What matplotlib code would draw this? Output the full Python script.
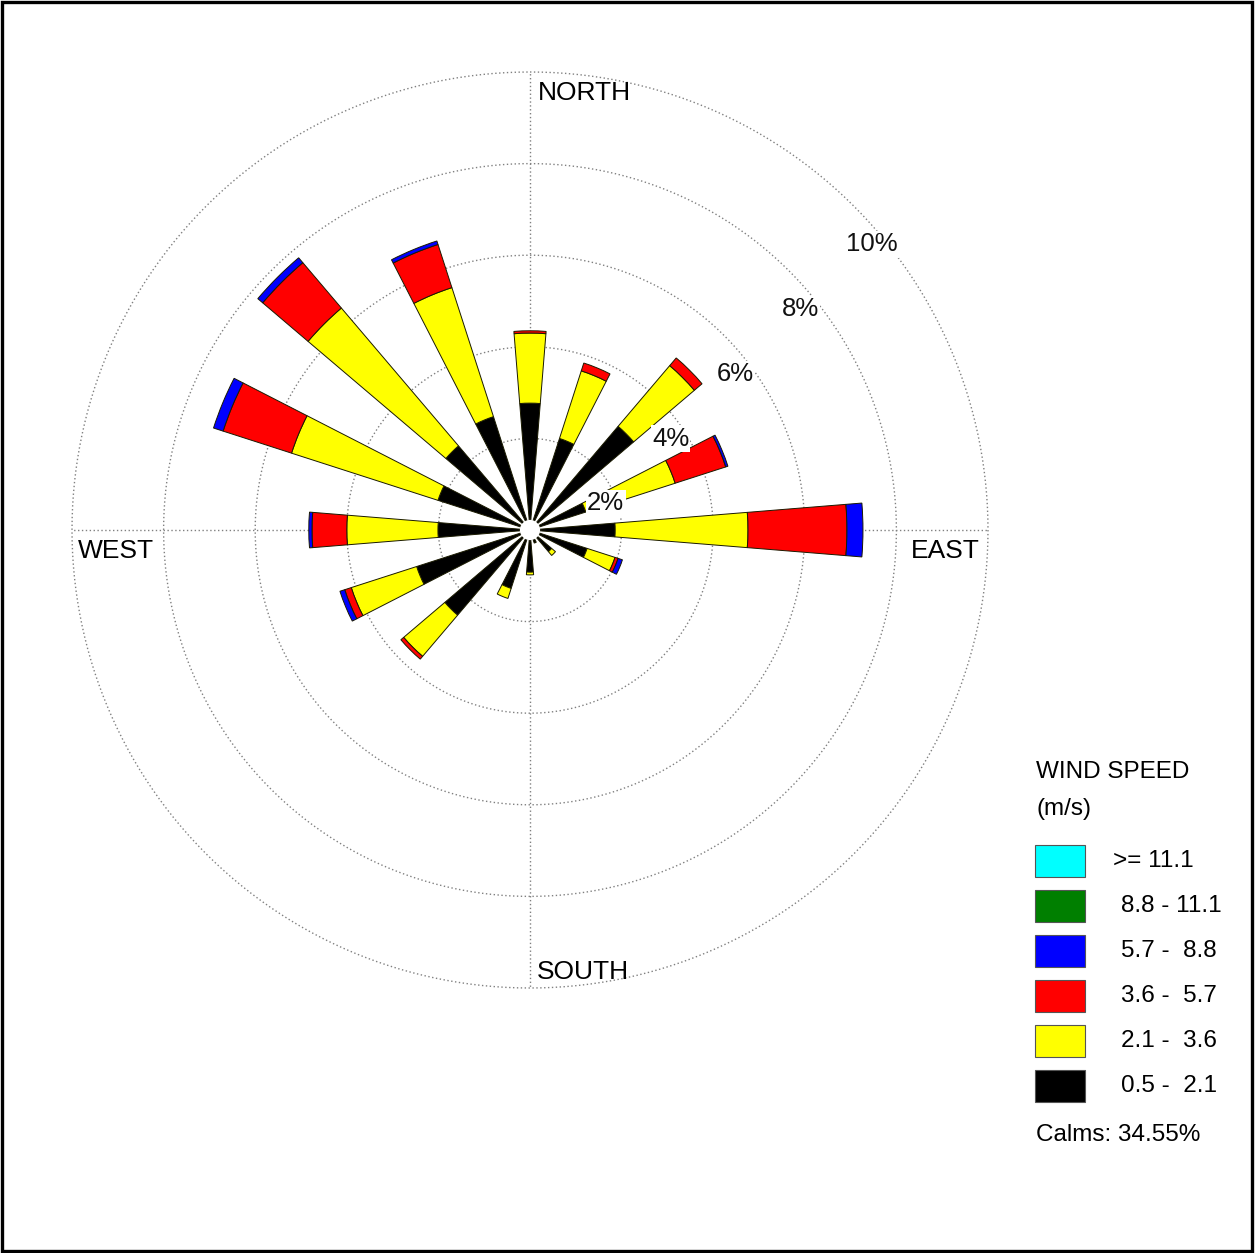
import numpy as np
import matplotlib.pyplot as plt
from matplotlib.patches import Rectangle

plt.rcParams['font.family'] = ['Liberation Sans', 'DejaVu Sans']

# Direcciones (de donde sopla el viento) y frecuencias (%) por clase de velocidad
direcciones = ['N', 'NNE', 'NE', 'ENE', 'E', 'ESE', 'SE', 'SSE',
               'S', 'SSW', 'SW', 'WSW', 'W', 'WNW', 'NW', 'NNW']
vel_05_21 = [2.77, 2.10, 2.97, 1.28, 1.86, 1.31, 0.62, 0.30,
             0.92, 1.34, 2.44, 2.60, 2.01, 2.11, 2.41, 2.60]
vel_21_36 = [1.53, 1.55, 1.74, 2.05, 2.90, 0.64, 0.11, 0.00,
             0.06, 0.23, 1.18, 1.50, 1.99, 3.36, 3.95, 2.96]
vel_36_57 = [0.05, 0.18, 0.22, 1.16, 2.16, 0.07, 0.00, 0.00,
             0.00, 0.00, 0.08, 0.15, 0.76, 1.57, 1.30, 0.99]
vel_57_88 = [0.00, 0.00, 0.00, 0.05, 0.35, 0.10, 0.00, 0.00,
             0.00, 0.00, 0.00, 0.11, 0.07, 0.22, 0.14, 0.08]
vel_88_111 = [0.0] * 16
vel_111 = [0.0] * 16

clases = ['0.5 -  2.1', '2.1 -  3.6', '3.6 -  5.7', '5.7 -  8.8', '8.8 - 11.1', '>= 11.1']
colores = ['#000000', '#ffff00', '#ff0000', '#0000ff', '#007f00', '#00ffff']
anillos = [2, 4, 6, 8, 10]
calmas = 34.55

W, H = 1255, 1253
fig = plt.figure(figsize=(W / 100, H / 100), dpi=100)

def fx(px):
    return px / W

def fy(py):
    return 1 - py / H

# Rosa de vientos: centro en (530, 530) px, anillo de 10% con radio 458 px
cx, cy, rad = 530, 530, 458
ax = fig.add_axes([fx(cx - rad), fy(cy + rad), 2 * rad / W, 2 * rad / H], projection='polar')
ax.set_theta_zero_location('N')
ax.set_theta_direction(-1)
ax.set_ylim(0, 10)
ax.axis('off')

# Rejilla punteada: anillos y ejes N-S / E-W
grid_kw = dict(color='#808080', lw=1.0, ls=(0, (1, 1.8)), zorder=1, clip_on=False)
t = np.linspace(0, 2 * np.pi, 721)
for r in anillos:
    ax.plot(t, np.full_like(t, r), **grid_kw)
for a in [0, 90, 180, 270]:
    ax.plot([np.radians(a)] * 2, [0, 10], **grid_kw)

# Barras apiladas por clase de velocidad
theta = np.radians(np.arange(len(direcciones)) * 22.5)
series = [vel_05_21, vel_21_36, vel_36_57, vel_57_88, vel_88_111, vel_111]
base = np.zeros(len(direcciones))
for vals, col in zip(series, colores):
    vals = np.array(vals)
    m = vals > 0
    if m.any():
        ax.bar(theta[m], vals[m], width=0.162, bottom=base[m], color=col,
               edgecolor='#1a1a00', linewidth=0.7, zorder=2)
    base += vals

# Circulo central (calmas)
ax.bar(0, 0.22, width=2 * np.pi, bottom=0, color='white', edgecolor='none', zorder=3)

# Etiquetas de los anillos
for r in anillos:
    ax.annotate(f'{r}%', xy=(np.pi / 4, r), xytext=(-5.5, -27.5), textcoords='offset points',
                ha='left', va='center', fontsize=18.5, color='#111111', zorder=4,
                bbox=dict(fc='white', ec='none', pad=1.0))

# Puntos cardinales
fig.text(fx(538), fy(93), 'NORTH', fontsize=19, ha='left', va='center')
fig.text(fx(537), fy(972), 'SOUTH', fontsize=19, ha='left', va='center')
fig.text(fx(911), fy(551), 'EAST', fontsize=19, ha='left', va='center')
fig.text(fx(78), fy(551), 'WEST', fontsize=19, ha='left', va='center')

# Leyenda
fig.text(fx(1036), fy(772), 'WIND SPEED', fontsize=17.5, ha='left', va='center')
fig.text(fx(1036), fy(809), '(m/s)', fontsize=17.5, ha='left', va='center')
for i, (lab, col) in enumerate(zip(clases[::-1], colores[::-1])):
    top = 845 + 45 * i
    fig.add_artist(Rectangle((fx(1035), fy(top + 32)), 50 / W, 32 / H, transform=fig.transFigure,
                             facecolor=col, edgecolor='#555555', lw=0.8))
    x_lab = 1113 if lab.startswith('>=') else 1121
    fig.text(fx(x_lab), fy(top + 16), lab, fontsize=17.5, ha='left', va='center')
fig.text(fx(1036), fy(1135), f'Calms: {calmas:.2f}%', fontsize=17.5, ha='left', va='center')

# Marco exterior
fig.add_artist(Rectangle((fx(2), fy(1251)), 1250 / W, 1249 / H, transform=fig.transFigure,
                         fill=False, edgecolor='black', lw=2.4))

fig.savefig('out.png', dpi=100)
